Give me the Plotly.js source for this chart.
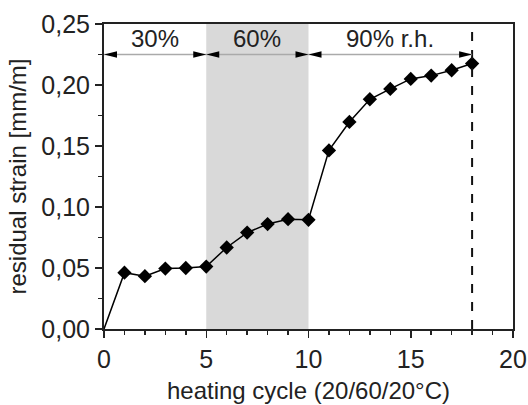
<!DOCTYPE html>
<html>
<head>
<meta charset="utf-8">
<script src="https://cdn.plot.ly/plotly-3.0.1.min.js"></script>
<style>html,body{margin:0;padding:0;background:#fff;}#chart{width:528px;height:405px;}</style>
</head>
<body>
<div id="chart"></div>
<script>
var cycles = [0,1,2,3,4,5,6,7,8,9,10,11,12,13,14,15,16,17,18];
var strain = [0,0.0462,0.0433,0.0495,0.0500,0.0512,0.0668,0.0790,0.0860,0.0900,0.0895,0.1464,0.1697,0.1883,0.1968,0.2050,0.2077,0.2121,0.2176];
var phaseBounds = [0,5,10,18];
var phaseLabels = ['30%','60%','90% r.h.'];
var phaseLabelX = [2.5,7.5,14];
var shadedPhase = [5,10];
var endCycle = 18;
var arrowY = 0.225;
var labelY = 0.238;

var FONT = '"Liberation Sans", Arial, sans-serif';
var TXT = '#222';

var shapes = [
  {type:'rect', xref:'x', yref:'y', x0:shadedPhase[0], x1:shadedPhase[1], y0:0, y1:0.25,
   fillcolor:'#d9d9d9', line:{width:0}, layer:'below'},
  {type:'line', xref:'x', yref:'y', x0:endCycle, x1:endCycle, y0:0, y1:0.25,
   line:{color:'#111', width:2, dash:'dash'}},
  {type:'line', xref:'x', yref:'y', x0:phaseBounds[0], x1:phaseBounds[phaseBounds.length-1], y0:arrowY, y1:arrowY,
   line:{color:'#aaaaaa', width:1.5}}
];
for (var i=0;i<phaseBounds.length-1;i++){
  var a = phaseBounds[i], b = phaseBounds[i+1];
  shapes.push({type:'path', xref:'x', yref:'y', xsizemode:'pixel', ysizemode:'pixel',
    xanchor:a, yanchor:arrowY, path:'M0,0 L13,3.2 L13,-3.2 Z', fillcolor:'#000', line:{width:0}});
  shapes.push({type:'path', xref:'x', yref:'y', xsizemode:'pixel', ysizemode:'pixel',
    xanchor:b, yanchor:arrowY, path:'M0,0 L-13,3.2 L-13,-3.2 Z', fillcolor:'#000', line:{width:0}});
}

var annotations = phaseLabels.map(function(t,i){
  return {x:phaseLabelX[i], y:labelY, xref:'x', yref:'y', text:t, showarrow:false,
    font:{family:FONT, size:24, color:TXT}};
});

var markerSizes = cycles.map(function(c,i){ return i===0 ? 0 : 11; });

var trace = {
  x: cycles, y: strain, type:'scatter', mode:'lines+markers',
  line:{color:'#000', width:1.5},
  marker:{symbol:'diamond', size:markerSizes, sizemode:'diameter', color:'#000', opacity:1, line:{width:0, color:'#000'}},
  cliponaxis:false
};

var axBase = {
  showgrid:false, zeroline:false, showline:true, linecolor:'#222', linewidth:2, mirror:true,
  ticks:'outside', ticklen:7, tickwidth:1.5, tickcolor:'#222',
  tickfont:{family:FONT, size:25, color:TXT}
};

var layout = {
  width:528, height:405,
  margin:{l:104, r:15, t:24, b:76},
  paper_bgcolor:'#fff', plot_bgcolor:'#fff',
  separators:',.',
  showlegend:false,
  xaxis: Object.assign({}, axBase, {
    range:[0,20], tickvals:[0,5,10,15,20], ticktext:['0','5','10','15','20'],
    minor:{dtick:1, ticks:'outside', ticklen:4, tickwidth:1.5, tickcolor:'#222'},
    title:{text:'heating cycle (20/60/20°C)', font:{family:FONT, size:24, color:TXT}, standoff:10}
  }),
  yaxis: Object.assign({}, axBase, {
    range:[0,0.25], dtick:0.05, tickformat:'.2f',
    minor:{dtick:0.025, ticks:'outside', ticklen:4, tickwidth:1.5, tickcolor:'#222'},
    title:{text:'residual strain [mm/m]', font:{family:FONT, size:24, color:TXT}, standoff:8}
  }),
  shapes: shapes,
  annotations: annotations
};

Plotly.newPlot('chart', [trace], layout, {displayModeBar:false, staticPlot:true});
</script>
</body>
</html>
